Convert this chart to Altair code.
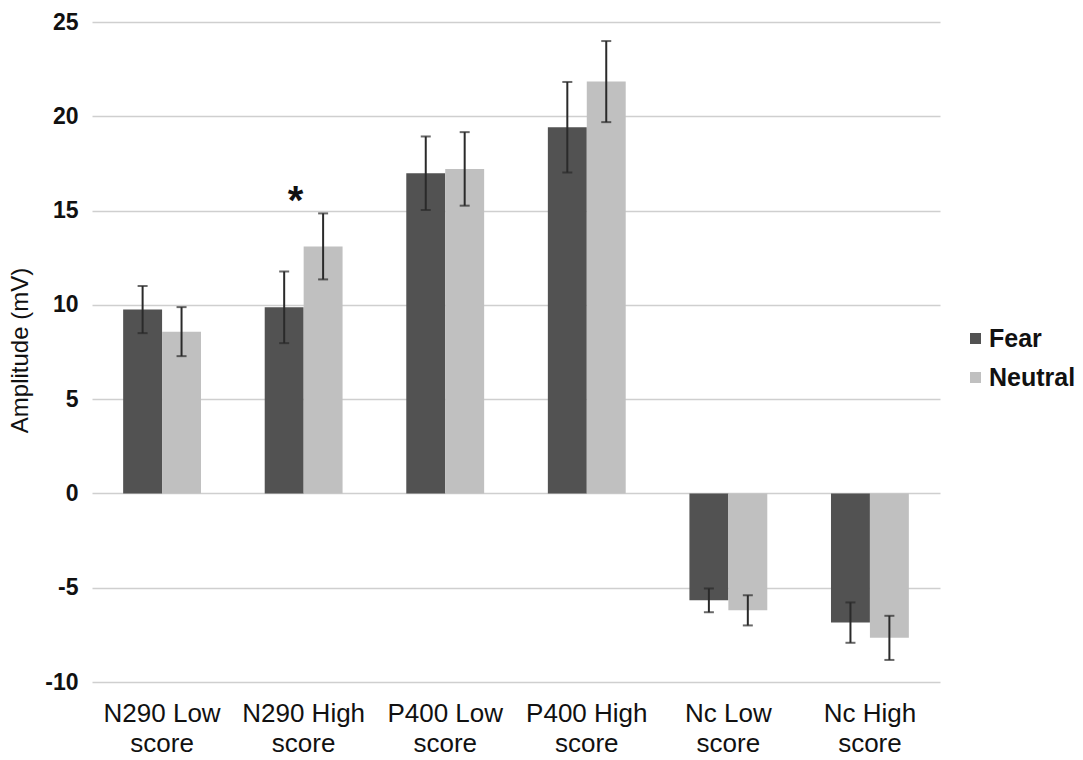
import altair as alt
import pandas as pd

categories = ["N290 Low score", "N290 High score", "P400 Low score",
              "P400 High score", "Nc Low score", "Nc High score"]
conditions = ["Fear", "Neutral"]
fear_values = [9.75, 9.87, 16.98, 19.42, -5.67, -6.85]
fear_errors = [1.25, 1.9, 1.95, 2.4, 0.63, 1.07]
neutral_values = [8.58, 13.1, 17.21, 21.84, -6.2, -7.66]
neutral_errors = [1.3, 1.75, 1.95, 2.15, 0.8, 1.17]
colors = ["#525252", "#c0c0c0"]

# significance marker
star_category = ["N290 High score"]
star_value = [15.9]

rows = []
for i, c in enumerate(categories):
    for cond, vals, errs in (("Fear", fear_values, fear_errors),
                             ("Neutral", neutral_values, neutral_errors)):
        rows.append({"cat": c, "cond": cond, "value": vals[i],
                     "lo": vals[i] - errs[i], "hi": vals[i] + errs[i]})
df = pd.DataFrame(rows)
star_df = pd.DataFrame({"cat": star_category, "value": star_value, "t": ["*"]})

FONT = "Liberation Sans"

x_enc = alt.X("cat:N", sort=categories, title=None,
              scale=alt.Scale(paddingInner=0.45, paddingOuter=0.22),
              axis=alt.Axis(labelAngle=0, labelFontSize=26, labelFont=FONT,
                            labelColor="#111", labelPadding=18,
                            labelLineHeight=30, ticks=False, domain=False,
                            grid=False, labelBaseline="top",
                            labelExpr="[slice(datum.label, 0, indexof(datum.label, ' score')), 'score']"))
y_scale = alt.Scale(domain=[-10, 25], nice=False, zero=False)
xoff = alt.XOffset("cond:N", sort=conditions)

bars = alt.Chart(df).mark_bar().encode(
    x=x_enc,
    xOffset=xoff,
    y=alt.Y("value:Q", scale=y_scale, title="Amplitude (mV)",
            axis=alt.Axis(values=[-10, -5, 0, 5, 10, 15, 20, 25],
                          labelExpr="'' + datum.value",
                          labelFontSize=23, labelFontWeight="bold",
                          labelFont=FONT, labelColor="#111",
                          labelPadding=14, ticks=False, domain=False,
                          gridColor="#cfcfcf", gridWidth=1.6,
                          titleFont=FONT, titleFontSize=24,
                          titleFontWeight="normal", titleColor="#111",
                          titleX=-72, titleY=328, titleAngle=-90,
                          titleAlign="center", titleBaseline="middle")),
    y2=alt.datum(0),
    color=alt.Color("cond:N", sort=conditions,
                    scale=alt.Scale(domain=conditions, range=colors),
                    legend=alt.Legend(title=None, orient="none",
                                      legendX=871, legendY=304,
                                      symbolType="square", symbolSize=121,
                                      symbolStrokeWidth=0,
                                      labelFont=FONT, labelFontSize=25,
                                      labelFontWeight="bold",
                                      labelColor="#111", rowPadding=13,
                                      labelOffset=1)),
)

rules = alt.Chart(df).mark_rule(color="#2a2a2a", strokeWidth=2).encode(
    x=alt.X("cat:N", sort=categories), xOffset=xoff,
    y=alt.Y("lo:Q", scale=y_scale), y2="hi:Q")
cap_lo = alt.Chart(df).mark_tick(color="#2a2a2a", thickness=2, size=10).encode(
    x=alt.X("cat:N", sort=categories), xOffset=xoff,
    y=alt.Y("lo:Q", scale=y_scale))
cap_hi = alt.Chart(df).mark_tick(color="#2a2a2a", thickness=2, size=10).encode(
    x=alt.X("cat:N", sort=categories), xOffset=xoff,
    y=alt.Y("hi:Q", scale=y_scale))

star = alt.Chart(star_df).mark_text(font=FONT, fontSize=40, fontWeight="bold",
                                    color="#111", dx=-8, baseline="middle",
                                    dy=8).encode(
    x=alt.X("cat:N", sort=categories),
    y=alt.Y("value:Q", scale=y_scale), text="t:N")

chart = alt.layer(bars, rules, cap_lo, cap_hi, star).properties(
    width=848, height=660,
    autosize=alt.AutoSizeParams(type="none"),
    padding={"left": 92, "top": 22, "right": 143, "bottom": 78},
    background="white",
).configure_view(stroke=None)

chart.save("out.html", embed_options={"renderer": "svg", "actions": False})
